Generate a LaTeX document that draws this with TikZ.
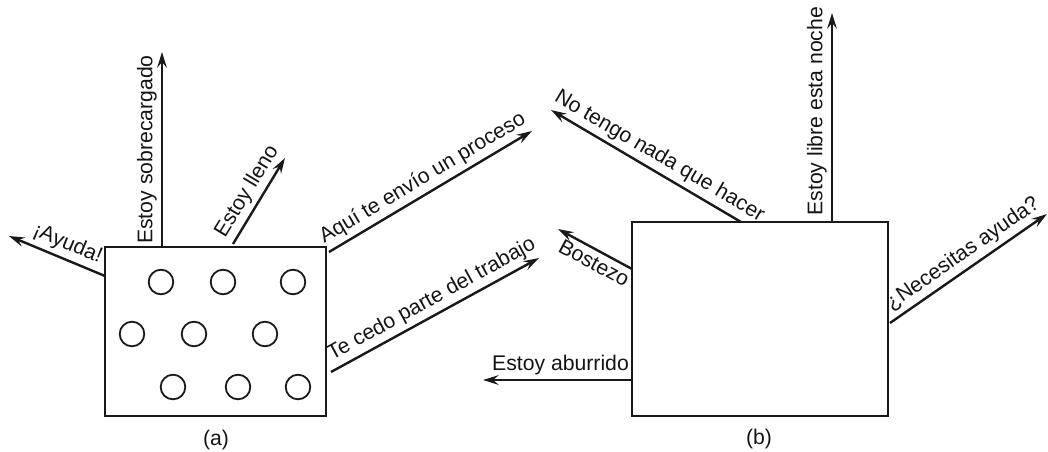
\documentclass[tikz,border=0pt]{standalone}
\usepackage{fontspec}
\setmainfont{Liberation Sans}
\usetikzlibrary{arrows.meta}
\begin{document}
\begin{tikzpicture}[x=0.5pt,y=-0.5pt,
  font=\fontsize{10.6}{12}\selectfont,
  box/.style={draw=black!90, line width=1.15pt, inner sep=0pt},
  proc/.style={draw=black!90, circle, line width=0.9pt, minimum size=12.3pt, inner sep=0pt},
  msg/.style={draw=black!90, line width=1.2pt, -{Stealth[length=7.8pt,width=4.8pt,inset=2.8pt]}},
  lab/.style={sloped, inner sep=2pt, text=black!92}]
\useasboundingbox (0,0) rectangle (1048,451);

% ---------- (a) ----------
\node[box, minimum width=110.5pt, minimum height=84.5pt] (A) at (215.5,331.5) {};
\node[proc] (p1) at (161,282) {};
\node[proc] (p2) at (223,282) {};
\node[proc] (p3) at (293,282) {};
\node[proc] (p4) at (132,334) {};
\node[proc] (p5) at (194,334) {};
\node[proc] (p6) at (265,334) {};
\node[proc] (p7) at (173,387) {};
\node[proc] (p8) at (238,387) {};
\node[proc] (p9) at (298,387) {};

\coordinate (ayS) at (105,276);  \coordinate (ayE) at (9,236);
\coordinate (soS) at (162,247);  \coordinate (soE) at (162,52);
\coordinate (llS) at (233,244);  \coordinate (llE) at (285,158);
\coordinate (aqS) at (329,252);  \coordinate (aqE) at (532,131);
\coordinate (teS) at (331,372);  \coordinate (teE) at (539,258);

\draw[msg] (ayS) -- node[lab, above, pos=0.45] {¡Ayuda!} (ayE);
\draw[msg] (soS) -- node[lab, above, pos=0.5] {Estoy sobrecargado} (soE);
\draw[msg] (llS) -- node[lab, above, pos=0.52] {Estoy lleno} (llE);
\draw[msg] (aqS) -- node[lab, above, pos=0.5] {Aquí te envío un proceso} (aqE);
\draw[msg] (teS) -- node[lab, above, pos=0.52] {Te cedo parte del trabajo} (teE);

\node[text=black!92] (la) at (216,440) {(a)};

% ---------- (b) ----------
\node[box, minimum width=128pt, minimum height=97pt] (B) at (760,319) {};

\coordinate (naS) at (741,222);  \coordinate (naE) at (551,110);
\coordinate (boS) at (632,269);  \coordinate (boE) at (558,229);
\coordinate (abS) at (632,380);  \coordinate (abE) at (483,380);
\coordinate (liS) at (832,222);  \coordinate (liE) at (832,13);
\coordinate (neS) at (890,323);  \coordinate (neE) at (1047,214);

\draw[msg] (naS) -- node[lab, above, pos=0.47] {No tengo nada que hacer} (naE);
\draw[msg] (boS) -- node[lab, below, pos=0.43] {Bostezo} (boE);
\draw[msg] (abS) -- node[lab, above, pos=0.48] {Estoy aburrido} (abE);
\draw[msg] (liS) -- node[lab, above, pos=0.53] {Estoy libre esta noche} (liE);
\draw[msg] (neS) -- node[lab, above, pos=0.52] {¿Necesitas ayuda?} (neE);

\node[text=black!92] (lb) at (759,439) {(b)};
\end{tikzpicture}
\end{document}
